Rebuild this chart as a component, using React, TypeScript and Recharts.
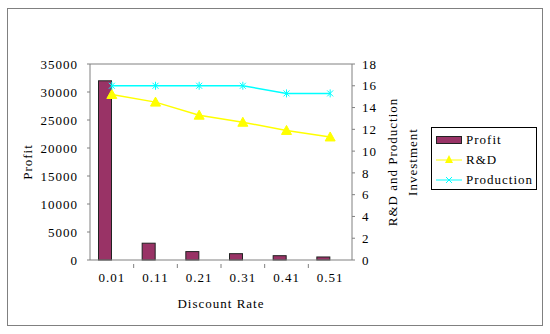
import { ComposedChart, Bar, Line, XAxis, YAxis, ReferenceLine } from "recharts";

const categories = ["0.01", "0.11", "0.21", "0.31", "0.41", "0.51"];
const profit = [32000, 3000, 1500, 1130, 770, 540];
const rnd = [15.2, 14.5, 13.3, 12.65, 11.9, 11.3];
const production = [16, 16, 16, 16, 15.3, 15.3];
const profitTicks = [0, 5000, 10000, 15000, 20000, 25000, 30000, 35000];
const investTicks = [0, 2, 4, 6, 8, 10, 12, 14, 16, 18];

const data = categories.map((c, i) => ({
  rate: c,
  profit: profit[i],
  rnd: rnd[i],
  production: production[i],
}));

const W = 534;
const H = 316;
const M = { top: 55, right: 110, bottom: 15, left: 20 };
const LEFT_W = 62;
const RIGHT_W = 80;
const X_H = 50;
const PLOT_W = W - M.left - M.right - LEFT_W - RIGHT_W;
const PLOT_H = H - M.top - M.bottom - X_H;
const BAND = PLOT_W / categories.length;

const FONT = "'Liberation Serif', serif";
const AXIS = "#808080";

function XTick(props: any) {
  const { x, y, index } = props;
  return (
    <g>
      <text x={x} y={y + 14} textAnchor="middle" fontSize={13} fontFamily={FONT} fill="#000" letterSpacing={1}>
        {props.payload.value}
      </text>
      {index < categories.length - 1 && (
        <line x1={x + BAND / 2} x2={x + BAND / 2} y1={y - 4} y2={y} stroke={AXIS} />
      )}
    </g>
  );
}

function BarShape(props: any) {
  const { x, y, width, height, fill } = props;
  return <rect x={x - width / 2} y={y} width={width} height={height} fill={fill} stroke="#222" strokeWidth={1} />;
}

function Triangle(props: any) {
  const { cx, cy } = props;
  if (cx == null) return null;
  return <polygon points={`${cx},${cy - 5} ${cx - 5},${cy + 4} ${cx + 5},${cy + 4}`} fill="#FFFF00" stroke="#FFFF00" />;
}

function Star(props: any) {
  const { cx, cy } = props;
  if (cx == null) return null;
  return (
    <g stroke="#00FFFF" strokeWidth={1}>
      <line x1={cx - 3} y1={cy - 3} x2={cx + 3} y2={cy + 3} />
      <line x1={cx - 3} y1={cy + 3} x2={cx + 3} y2={cy - 3} />
      <line x1={cx} y1={cy - 4} x2={cx} y2={cy + 4} />
    </g>
  );
}

function LegendBox() {
  const row = { display: "flex", alignItems: "center", height: 20 } as const;
  return (
    <div
      style={{
        position: "absolute",
        left: 423,
        top: 118,
        border: "1px solid #000",
        width: 106,
        height: 63,
        boxSizing: "border-box",
        padding: "2px 0 0 4px",
        fontFamily: FONT,
        fontSize: 13,
        letterSpacing: 1,
        background: "#fff",
      }}
    >
      <div style={row}>
        <svg width={28} height={12}>
          <rect x={0.5} y={2.5} width={25} height={7} fill="#993366" stroke="#222" />
        </svg>
        <span style={{ marginLeft: 2 }}>Profit</span>
      </div>
      <div style={row}>
        <svg width={28} height={12}>
          <line x1={0} x2={26} y1={6} y2={6} stroke="#FFFF00" />
          <polygon points="13,1 9,9 17,9" fill="#FFFF00" />
        </svg>
        <span style={{ marginLeft: 2 }}>R&amp;D</span>
      </div>
      <div style={row}>
        <svg width={28} height={12}>
          <line x1={0} x2={26} y1={6} y2={6} stroke="#00FFFF" />
          <line x1={10} y1={3} x2={16} y2={9} stroke="#00FFFF" />
          <line x1={10} y1={9} x2={16} y2={3} stroke="#00FFFF" />
        </svg>
        <span style={{ marginLeft: 2 }}>Production</span>
      </div>
    </div>
  );
}

export default function App() {
  const tickStyle = { fontSize: 13, fontFamily: FONT, fill: "#000", letterSpacing: 1 };
  return (
    <div
      style={{
        position: "absolute",
        left: 7,
        top: 8,
        width: W,
        height: H,
        border: "1px solid #808080",
        background: "#fff",
      }}
    >
      <ComposedChart width={W} height={H} data={data} margin={M} barCategoryGap={0}>
        <XAxis
          dataKey="rate"
          xAxisId="x"
          stroke={AXIS}
          tickLine={false}
          tick={<XTick />}
          height={X_H}
          interval={0}
          label={{
            value: "Discount Rate",
            position: "insideBottom",
            offset: 2,
            style: { ...tickStyle, textAnchor: "middle" },
          }}
        />
        <YAxis
          yAxisId="left"
          domain={[0, 35000]}
          ticks={profitTicks}
          width={LEFT_W}
          stroke={AXIS}
          tickSize={3}
          tickMargin={9}
          tick={tickStyle}
          interval={0}
          label={{
            value: "Profit",
            angle: -90,
            position: "insideLeft",
            offset: -1,
            style: { ...tickStyle, textAnchor: "middle" },
          }}
        />
        <YAxis
          yAxisId="right"
          orientation="right"
          domain={[0, 18]}
          ticks={investTicks}
          width={RIGHT_W}
          stroke={AXIS}
          tickSize={3}
          tickMargin={7}
          tick={{ ...tickStyle, textAnchor: "start" }}
          interval={0}
          label={(p: any) => {
            const vb = p.viewBox;
            const cy = M.top + PLOT_H / 2;
            const x1 = vb.x + 40;
            const x2 = vb.x + 60;
            return (
              <g>
                <text x={x1} y={cy} transform={`rotate(-90 ${x1} ${cy})`} textAnchor="middle" dominantBaseline="central" {...tickStyle}>
                  R&amp;D and Production
                </text>
                <text x={x2} y={cy} transform={`rotate(-90 ${x2} ${cy})`} textAnchor="middle" dominantBaseline="central" {...tickStyle}>
                  Investment
                </text>
              </g>
            );
          }}
        />
        <ReferenceLine yAxisId="left" xAxisId="x" y={35000} stroke={AXIS} />
        <Bar
          dataKey="profit"
          name="Profit"
          xAxisId="x"
          yAxisId="left"
          fill="#993366"
          barSize={13}
          shape={<BarShape />}
          isAnimationActive={false}
        />
        <Line
          dataKey="rnd"
          name="R&D"
          xAxisId="x"
          yAxisId="right"
          stroke="#FFFF00"
          strokeWidth={1.5}
          dot={<Triangle />}
          activeDot={false}
          isAnimationActive={false}
        />
        <Line
          dataKey="production"
          name="Production"
          xAxisId="x"
          yAxisId="right"
          stroke="#00FFFF"
          strokeWidth={1.5}
          dot={<Star />}
          activeDot={false}
          isAnimationActive={false}
        />
      </ComposedChart>
      <LegendBox />
    </div>
  );
}
